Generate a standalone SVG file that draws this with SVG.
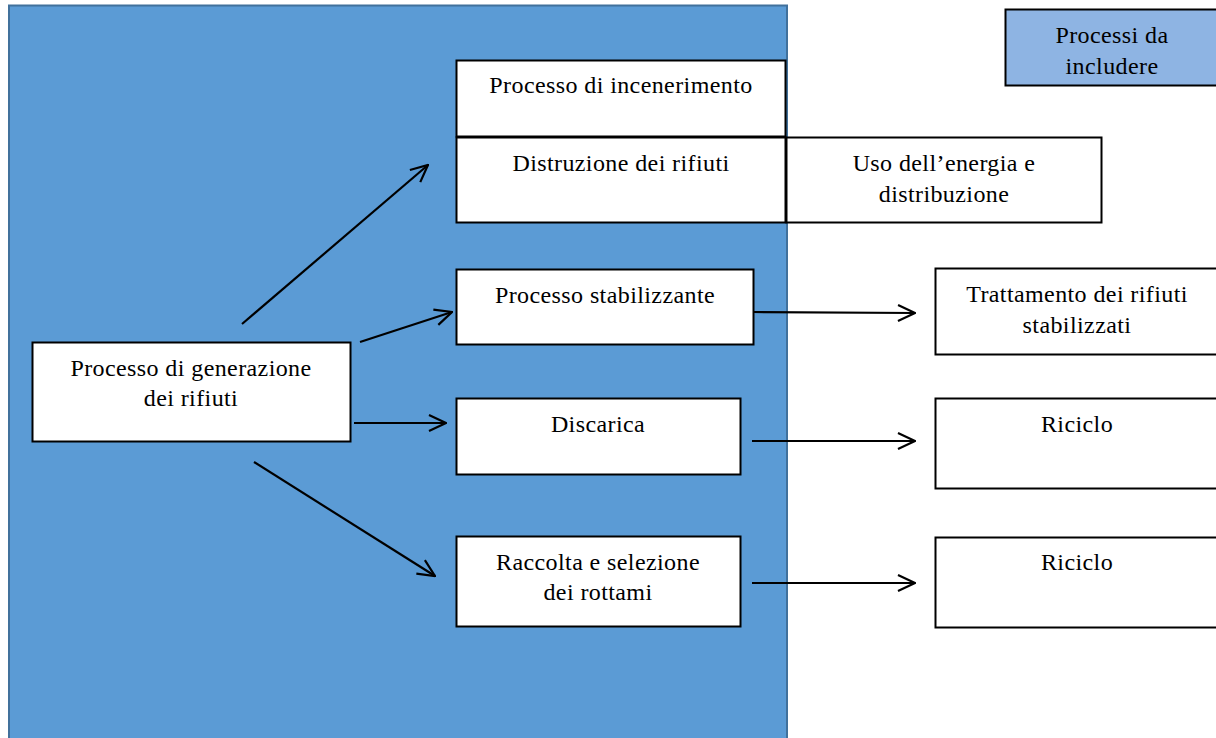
<svg xmlns="http://www.w3.org/2000/svg" width="1216" height="738" viewBox="0 0 1216 738">
<style>
.box{fill:#fff;stroke:#000;stroke-width:2}
.t{font-family:"Liberation Serif","Times New Roman",serif;font-size:24px;letter-spacing:0.4px;fill:#000;text-anchor:middle}
.c{stroke:#000;stroke-width:2.2;fill:none;marker-end:url(#ah)}
</style>
<defs>
<marker id="ah" viewBox="0 0 20 20" refX="19" refY="10" markerWidth="20" markerHeight="20" markerUnits="userSpaceOnUse" orient="auto">
<path d="M2,2 L19,10 L2,18" fill="none" stroke="#000" stroke-width="2.2"/>
</marker>
</defs>
<rect id="area" x="9" y="5.5" width="778" height="740" fill="#5b9bd5" stroke="#41719c" stroke-width="2"/>
<g id="legend"><rect x="1005.5" y="9.5" width="215" height="76" fill="#8eb4e3" stroke="#000" stroke-width="2"/>
<text class="t" x="1112" y="43">Processi da</text><text class="t" x="1112" y="74">includere</text></g>
<g id="incenerimento"><rect class="box" x="456.5" y="60.5" width="329" height="76"/><text class="t" x="621" y="93">Processo di incenerimento</text></g>
<g id="distruzione"><rect class="box" x="456.5" y="137.5" width="329" height="85"/><text class="t" x="621" y="171">Distruzione dei rifiuti</text></g>
<g id="energia"><rect class="box" x="786.5" y="137.5" width="315" height="85"/><text class="t" x="944" y="171">Uso dell’energia e</text><text class="t" x="944" y="202">distribuzione</text></g>
<g id="generazione"><rect class="box" x="32.5" y="342.5" width="318" height="99"/><text class="t" x="191" y="376">Processo di generazione</text><text class="t" x="191" y="406">dei rifiuti</text></g>
<g id="stabilizzante"><rect class="box" x="456.5" y="269.5" width="297" height="75"/><text class="t" x="605" y="303">Processo stabilizzante</text></g>
<g id="trattamento"><rect class="box" x="935.5" y="268.5" width="290" height="86"/><text class="t" x="1077" y="302">Trattamento dei rifiuti</text><text class="t" x="1077" y="333">stabilizzati</text></g>
<g id="discarica"><rect class="box" x="456.5" y="398.5" width="284" height="76"/><text class="t" x="598" y="432">Discarica</text></g>
<g id="riciclo1"><rect class="box" x="935.5" y="398.5" width="290" height="90"/><text class="t" x="1077" y="432">Riciclo</text></g>
<g id="raccolta"><rect class="box" x="456.5" y="536.5" width="284" height="90"/><text class="t" x="598" y="570">Raccolta e selezione</text><text class="t" x="598" y="600">dei rottami</text></g>
<g id="riciclo2"><rect class="box" x="935.5" y="537.5" width="290" height="90"/><text class="t" x="1077" y="570">Riciclo</text></g>
<g id="connectors">
<line class="c" x1="242" y1="324" x2="428" y2="165"/>
<line class="c" x1="360" y1="342" x2="452" y2="312"/>
<line class="c" x1="354" y1="423" x2="446" y2="423"/>
<line class="c" x1="254" y1="462" x2="435" y2="576"/>
<line class="c" x1="753" y1="312" x2="915" y2="313"/>
<line class="c" x1="752" y1="441" x2="915" y2="441"/>
<line class="c" x1="752" y1="583" x2="915" y2="583"/>
</g>
</svg>
